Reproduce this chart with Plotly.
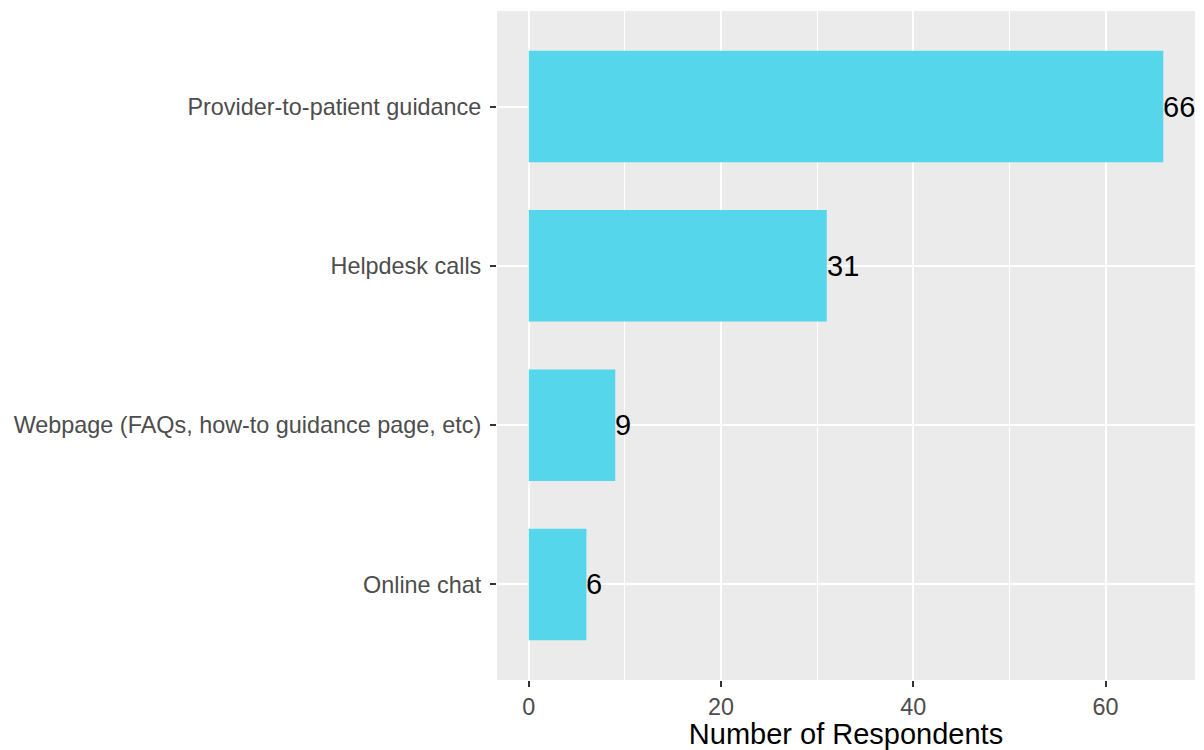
import plotly.graph_objects as go

categories = ["Provider-to-patient guidance", "Helpdesk calls",
              "Webpage (FAQs, how-to guidance page, etc)", "Online chat"]
values = [66, 31, 9, 6]
x_ticks = [0, 20, 40, 60]

bar_color = "#55D6EB"
FONT = "Liberation Sans, Arial"

fig = go.Figure()
fig.add_trace(go.Bar(
    x=values, y=categories, orientation="h",
    marker=dict(color=bar_color, line=dict(width=0)),
    width=0.7, hoverinfo="skip",
))
for c, v in zip(categories, values):
    fig.add_annotation(x=v, y=c, text=str(v), showarrow=False,
                       xanchor="left", yanchor="middle", xshift=-2,
                       font=dict(family=FONT, size=29, color="black"))

# page body has an 8px margin, so the figure is sized to fit inside it
fig.update_layout(
    width=1196, height=742,
    margin=dict(l=489, r=9, t=3, b=70),
    paper_bgcolor="white", plot_bgcolor="#EBEBEB",
    showlegend=False,
    font=dict(family=FONT),
)
fig.update_xaxes(
    range=[-3.3, 69.3], tickvals=x_ticks, ticktext=[str(t) for t in x_ticks],
    showgrid=True, gridcolor="white", gridwidth=2, zeroline=False,
    minor=dict(tickvals=[10, 30, 50], showgrid=True, gridcolor="white", gridwidth=1, ticks=""),
    ticks="outside", ticklen=6, tickwidth=2, tickcolor="#333333",
    tickfont=dict(size=23.4, color="#4D4D4D"),
    title=dict(text="Number of Respondents", font=dict(size=29, color="black"), standoff=5),
    showline=False,
)
fig.update_yaxes(
    categoryorder="array", categoryarray=categories[::-1],
    range=[-0.6, 3.6],
    showgrid=True, gridcolor="white", gridwidth=2, zeroline=False,
    ticks="outside", ticklen=6, tickwidth=2, tickcolor="#333333",
    tickfont=dict(size=23.4, color="#4D4D4D"),
    ticklabelstandoff=4,
    showline=False,
)

fig.write_html("out.html")
